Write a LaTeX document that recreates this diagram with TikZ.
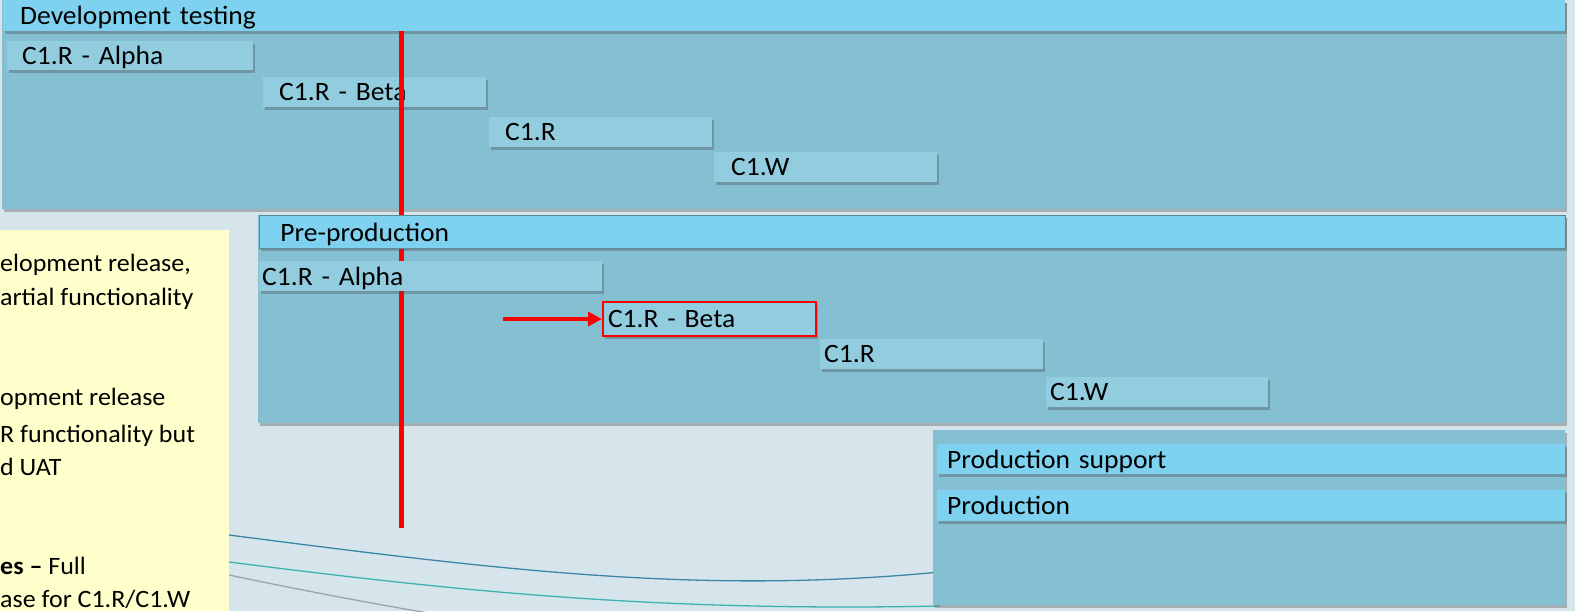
\documentclass[tikz,border=0pt]{standalone}
\usepackage{fontspec}
\setmainfont{Carlito}[FakeStretch=1.04]
\usetikzlibrary{shadows,arrows.meta}
\definecolor{bgc}{HTML}{D5E5EB}
\definecolor{panelc}{HTML}{84BFD2}
\definecolor{headc}{HTML}{7ED2F0}
\definecolor{barc}{HTML}{92CCDF}
\definecolor{yelc}{HTML}{FFFFCC}
\definecolor{redc}{HTML}{FF0000}
\definecolor{curvea}{HTML}{3B87A5}
\definecolor{curveb}{HTML}{3DB3B0}
\definecolor{curvec}{HTML}{9AA5AA}
\begin{document}
\begin{tikzpicture}[x=1pt,y=-1pt,
  shad/.style={drop shadow={shadow xshift=1.5pt,shadow yshift=-3pt,opacity=0.35,fill=black!70}},
  panel/.style={rectangle,fill=panelc,anchor=north west,inner sep=0pt,shad},
  lbl/.style={rectangle,anchor=north west,inner ysep=0pt,align=left,font=\fontsize{26.5}{30}\selectfont,text depth=0pt,shad},
  head/.style={lbl,fill=headc},
  barbox/.style={lbl,fill=barc},
  ytext/.style={anchor=base west,inner sep=0pt,font=\fontsize{25}{30}\selectfont},
  marker/.style={redc,line width=5pt}
]
\fill[bgc] (0,0) rectangle (1575,611);
\useasboundingbox (0,0) rectangle (1575,611);

% background curves
\draw[curvea,line width=1.3pt] (229,535) .. controls (500,570) and (700,595) .. (940,572);
\draw[curveb,line width=1.3pt] (229,562) .. controls (450,590) and (650,612) .. (940,606);
\draw[curvec,line width=1.3pt] (229,575) .. controls (300,590) and (380,605) .. (440,615);

% yellow notes box
\fill[yelc] (0,230) rectangle (229,611);
\begin{scope}
\clip (0,230) rectangle (229,611);
\node[ytext] (y1) at (0,271) {elopment release,};
\node[ytext] (y2) at (0,305) {artial functionality};
\node[ytext] (y3) at (0,405) {opment release};
\node[ytext] (y4) at (0,442) {R functionality but};
\node[ytext] (y5) at (0,475) {d UAT};
\node[ytext] (y6) at (0,574) {\textbf{es –} Full};
\node[ytext] (y7) at (0,607) {ase for C1.R/C1.W};
\end{scope}

% Development testing
\node[panel,minimum width=1563pt,minimum height=209pt] (devpanel) at (2,0) {};
\node[head,minimum height=31pt,inner xsep=17pt,text width=1528pt] (devhead) at (3,0) {Development testing};
\node[barbox,minimum height=29pt,inner xsep=15pt,text width=216pt] (dalpha) at (7,41) {C1.R - Alpha};
\node[barbox,minimum height=30pt,inner xsep=16pt,text width=191pt] (dbeta) at (263,77) {C1.R - Beta};
\node[barbox,minimum height=30pt,inner xsep=16pt,text width=191pt] (dr) at (489,117) {C1.R};
\node[barbox,minimum height=30pt,inner xsep=17pt,text width=189pt] (dw) at (714,152) {C1.W};

% Pre-production panel body
\node[panel,minimum width=1307pt,minimum height=208pt] (prepanel) at (258,215) {};

% red vertical marker (passes behind the pre-production header and alpha bar)
\coordinate (mtop) at (401,31);
\coordinate (mbot) at (401,528);
\draw[marker] (mtop) -- (mbot);

\node[head,draw=panelc!70!black,line width=0.8pt,minimum height=33pt,inner xsep=21pt,text width=1264pt] (prehead) at (259,215) {Pre-production};
\node[barbox,minimum height=30pt,inner xsep=3pt,text width=337pt] (palpha) at (259,261) {C1.R - Alpha};
\node[barbox,draw=redc,line width=2pt,minimum height=34pt,inner xsep=5pt,text width=203pt] (pbeta) at (602,301) {C1.R - Beta};
\node[barbox,minimum height=30pt,inner xsep=4pt,text width=215pt] (pr) at (820,339) {C1.R};
\node[barbox,minimum height=30pt,inner xsep=4pt,text width=214pt] (pw) at (1046,377) {C1.W};

% red arrow
\coordinate (arrstart) at (503,319);
\draw[redc,line width=4pt,-{Triangle[length=14pt,width=14pt]}] (arrstart) -- (pbeta.west);

% Production
\node[panel,minimum width=632pt,minimum height=175pt] (prodpanel) at (933,430) {};
\node[head,minimum height=30pt,inner xsep=10pt,text width=608pt] (psup) at (937,444) {Production support};
\node[head,minimum height=31pt,inner xsep=10pt,text width=608pt] (prod) at (937,490) {Production};
\end{tikzpicture}
\end{document}
